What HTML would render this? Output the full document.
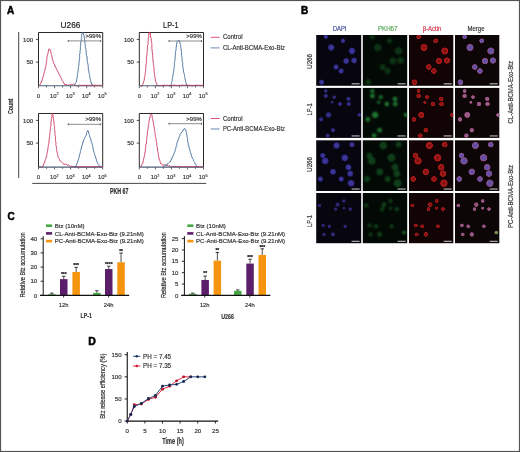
<!DOCTYPE html><html><head><meta charset="utf-8"><style>html,body{margin:0;padding:0;background:#fff;}svg{display:block;will-change:transform;}text{font-family:"Liberation Sans",sans-serif;}</style></head><body>
<svg width="520" height="452" viewBox="0 0 520 452">
<defs>
<filter id="bl" x="-50%" y="-50%" width="200%" height="200%"><feGaussianBlur stdDeviation="0.7"/></filter><filter id="bl2" x="-50%" y="-50%" width="200%" height="200%"><feGaussianBlur stdDeviation="0.85"/></filter>
<radialGradient id="gB"><stop offset="0" stop-color="#4640a6"/><stop offset="0.65" stop-color="#342e92"/><stop offset="1" stop-color="#1a1550" stop-opacity="0"/></radialGradient>
<radialGradient id="gG"><stop offset="0" stop-color="#0c2a12"/><stop offset="0.55" stop-color="#185e28"/><stop offset="0.78" stop-color="#1c7030"/><stop offset="1" stop-color="#0a2a12" stop-opacity="0"/></radialGradient>
<radialGradient id="gR"><stop offset="0" stop-color="#700e0e"/><stop offset="0.55" stop-color="#a01616"/><stop offset="0.78" stop-color="#b81c1c"/><stop offset="1" stop-color="#400606" stop-opacity="0"/></radialGradient>
<radialGradient id="gM"><stop offset="0" stop-color="#5c4aa8"/><stop offset="0.55" stop-color="#6a54a4"/><stop offset="0.8" stop-color="#8a4a80"/><stop offset="1" stop-color="#401830" stop-opacity="0"/></radialGradient>
<radialGradient id="gM2"><stop offset="0" stop-color="#8a5a90"/><stop offset="0.55" stop-color="#9a6088"/><stop offset="0.8" stop-color="#8a3a60"/><stop offset="1" stop-color="#401830" stop-opacity="0"/></radialGradient>
<radialGradient id="gY"><stop offset="0" stop-color="#8aa060"/><stop offset="0.7" stop-color="#7a9050"/><stop offset="1" stop-color="#304020" stop-opacity="0"/></radialGradient>
<radialGradient id="gG2"><stop offset="0" stop-color="#2a9a48"/><stop offset="0.7" stop-color="#228a3a"/><stop offset="1" stop-color="#0a2a12" stop-opacity="0"/></radialGradient>
<radialGradient id="gG3"><stop offset="0" stop-color="#1a6a2c"/><stop offset="0.6" stop-color="#228a3a"/><stop offset="0.8" stop-color="#1a7030"/><stop offset="1" stop-color="#0a2a12" stop-opacity="0"/></radialGradient>
</defs>
<rect x="0" y="0" width="520" height="452" fill="#fff"/>
<text x="7.0" y="14.2" font-size="10" fill="#000" stroke="#000" stroke-width="0.5" text-anchor="start" font-weight="bold" >A</text>
<text x="70.5" y="27.6" font-size="9" fill="#222" stroke="#222" stroke-width="0.18" text-anchor="middle" font-weight="normal" textLength="19.8" lengthAdjust="spacingAndGlyphs" >U266</text>
<text x="170.8" y="27.6" font-size="9" fill="#222" stroke="#222" stroke-width="0.18" text-anchor="middle" font-weight="normal" textLength="15.4" lengthAdjust="spacingAndGlyphs" >LP-1</text>
<line x1="18.7" y1="32" x2="18.7" y2="178" stroke="#333" stroke-width="0.9"/>
<text x="13.4" y="106.4" font-size="6.5" fill="#333" stroke="#333" stroke-width="0.18" text-anchor="middle" font-weight="bold" textLength="15.2" lengthAdjust="spacingAndGlyphs" transform="rotate(-90 13.4 106.4)" >Count</text>
<line x1="32.2" y1="183.4" x2="206.3" y2="183.4" stroke="#333" stroke-width="0.9"/>
<text x="110" y="193.5" font-size="8.2" fill="#2a2a2a" stroke="#2a2a2a" stroke-width="0.18" text-anchor="start" font-weight="bold" textLength="18.5" lengthAdjust="spacingAndGlyphs" >PKH 67</text>
<path d="M38.5,85.9 V32.5 H102.7 V85.9" fill="none" stroke="#111" stroke-width="0.9"/>
<line x1="35.9" y1="39.4" x2="38.5" y2="39.4" stroke="#222" stroke-width="0.8"/>
<text x="33.1" y="41.5" font-size="6" fill="#333" stroke="#333" stroke-width="0.18" text-anchor="end" font-weight="normal" >100</text>
<line x1="35.9" y1="62.1" x2="38.5" y2="62.1" stroke="#222" stroke-width="0.8"/>
<text x="33.1" y="64.2" font-size="6" fill="#333" stroke="#333" stroke-width="0.18" text-anchor="end" font-weight="normal" >50</text>
<line x1="38.50" y1="85.9" x2="38.50" y2="88.2" stroke="#222" stroke-width="0.7"/>
<line x1="46.52" y1="85.9" x2="46.52" y2="87.5" stroke="#222" stroke-width="0.7"/>
<line x1="54.55" y1="85.9" x2="54.55" y2="88.2" stroke="#222" stroke-width="0.7"/>
<line x1="62.58" y1="85.9" x2="62.58" y2="87.5" stroke="#222" stroke-width="0.7"/>
<line x1="70.60" y1="85.9" x2="70.60" y2="88.2" stroke="#222" stroke-width="0.7"/>
<line x1="78.62" y1="85.9" x2="78.62" y2="87.5" stroke="#222" stroke-width="0.7"/>
<line x1="86.65" y1="85.9" x2="86.65" y2="88.2" stroke="#222" stroke-width="0.7"/>
<line x1="94.68" y1="85.9" x2="94.68" y2="87.5" stroke="#222" stroke-width="0.7"/>
<line x1="102.70" y1="85.9" x2="102.70" y2="88.2" stroke="#222" stroke-width="0.7"/>
<text x="38.5" y="97.60000000000001" font-size="5.9" fill="#333" stroke="#333" stroke-width="0.18" text-anchor="middle" font-weight="normal" >0</text>
<text x="54.25" y="97.60000000000001" font-size="5.9" fill="#333" stroke="#333" stroke-width="0.15" text-anchor="middle">10<tspan font-size="3.8" dy="-2.4">2</tspan></text>
<text x="70.30" y="97.60000000000001" font-size="5.9" fill="#333" stroke="#333" stroke-width="0.15" text-anchor="middle">10<tspan font-size="3.8" dy="-2.4">3</tspan></text>
<text x="86.35" y="97.60000000000001" font-size="5.9" fill="#333" stroke="#333" stroke-width="0.15" text-anchor="middle">10<tspan font-size="3.8" dy="-2.4">4</tspan></text>
<text x="102.40" y="97.60000000000001" font-size="5.9" fill="#333" stroke="#333" stroke-width="0.15" text-anchor="middle">10<tspan font-size="3.8" dy="-2.4">5</tspan></text>
<path d="M38.60,85.60 L39.82,84.99 L40.18,84.53 L40.36,84.33 L40.41,83.93 L40.67,83.27 L40.96,82.31 L41.41,82.26 L41.57,80.96 L42.09,80.81 L42.35,79.48 L42.81,78.29 L42.94,77.94 L42.79,77.18 L43.05,77.16 L43.18,76.29 L43.57,75.41 L43.71,74.42 L43.68,73.83 L44.15,73.29 L44.17,72.69 L44.41,71.69 L44.74,71.31 L44.66,70.46 L44.96,70.01 L45.21,68.77 L45.47,67.93 L45.36,67.83 L45.40,66.84 L45.49,66.24 L45.96,65.39 L46.14,64.39 L46.18,63.88 L46.25,63.01 L46.48,62.70 L46.43,61.72 L46.35,61.05 L46.72,60.62 L46.90,59.32 L46.80,59.03 L46.74,58.24 L46.90,57.36 L47.02,57.02 L47.20,55.73 L47.45,55.54 L47.45,54.47 L47.78,54.22 L48.03,53.61 L47.92,52.63 L48.09,52.50 L48.58,50.94 L48.44,50.14 L48.69,49.62 L49.07,48.87 L49.03,48.73 L49.55,49.06 L50.19,49.98 L50.41,51.11 L50.66,51.13 L50.95,52.39 L51.13,53.08 L51.12,53.43 L51.19,54.40 L51.39,54.66 L51.66,55.52 L51.93,56.20 L51.96,56.99 L52.18,57.92 L52.33,59.14 L52.77,59.27 L52.79,60.23 L53.03,60.79 L53.44,62.31 L53.47,62.54 L53.51,62.84 L53.92,63.73 L54.44,64.31 L54.39,65.65 L54.94,65.51 L55.28,65.98 L55.59,67.42 L56.06,67.78 L56.11,68.12 L56.39,69.13 L56.89,69.79 L57.12,69.93 L57.65,71.25 L57.97,71.70 L58.24,72.22 L58.33,72.74 L58.71,72.96 L58.86,73.82 L59.28,74.85 L59.96,75.35 L60.24,76.42 L60.56,76.48 L60.55,77.00 L60.87,77.64 L61.40,78.92 L61.83,79.18 L62.07,80.07 L62.19,80.64 L62.94,81.46 L63.25,81.88 L63.37,82.81 L63.79,83.40 L64.41,83.51 L64.89,84.81 L65.90,84.45 L66.31,84.56 L67.46,85.21 L67.98,85.23 L69.22,85.04 L69.62,84.85 L70.22,84.20 L71.31,84.60 L71.82,84.72 L72.47,84.63 L73.46,84.20 L73.99,84.56 L74.80,85.15 L75.69,85.23 L76.07,85.75 L76.38,85.40 L76.73,85.83 L77.16,85.85 L78.22,85.52 L80.01,85.07 L80.42,85.22 L80.73,85.77 L81.36,85.48 L82.21,85.56 L82.67,85.53 L83.46,85.77 L83.98,85.57 L84.79,85.31 L85.81,85.52 L86.52,85.75 L87.50,85.46 L88.21,85.52 L89.01,85.69 L89.85,85.54 L90.73,85.91 L91.70,85.85 L92.68,85.30 L93.37,85.91 L94.35,85.18 L94.87,85.46 L95.67,85.27 L96.47,85.66 L97.57,85.86 L98.03,85.70 L98.98,85.18 L99.76,85.92 L100.10,85.91 L100.78,85.49 L101.59,85.80 L101.72,85.44 L102.32,85.36 L102.70,85.50" stroke="#cc3058" stroke-width="0.9" fill="none" stroke-linejoin="round"/>
<path d="M74.60,85.20 L74.64,84.69 L75.13,84.02 L75.34,83.91 L75.42,83.21 L76.03,82.62 L76.10,82.10 L76.73,80.92 L76.53,79.80 L76.60,79.73 L76.82,78.59 L76.99,78.70 L77.28,77.50 L77.08,77.45 L77.38,76.58 L77.27,75.31 L77.65,74.93 L77.48,74.66 L77.84,73.80 L77.70,73.08 L77.80,72.32 L78.07,71.06 L78.22,70.80 L78.20,69.28 L78.41,68.58 L78.33,67.70 L78.40,66.93 L78.59,66.38 L78.87,65.70 L78.83,64.92 L78.84,64.08 L78.87,63.37 L79.16,63.14 L78.99,62.34 L79.40,61.28 L79.42,60.83 L79.34,60.44 L79.37,59.39 L79.57,59.07 L79.49,58.17 L79.72,57.24 L79.65,56.23 L79.57,55.28 L79.64,55.09 L79.79,53.83 L79.78,53.70 L80.20,52.83 L80.01,51.73 L80.08,51.22 L80.08,50.52 L80.19,50.32 L80.59,49.14 L80.34,48.70 L80.45,47.32 L80.38,46.51 L80.67,45.79 L80.62,44.96 L80.61,43.91 L80.72,43.21 L80.77,42.06 L80.96,41.46 L81.16,40.95 L81.30,40.31 L81.36,39.78 L81.28,38.58 L81.61,37.75 L81.56,37.56 L81.31,37.13 L81.76,36.39 L81.75,36.04 L81.54,35.32 L81.95,33.92 L82.29,33.05 L82.40,32.80 L82.68,32.57 L82.77,32.11 L83.05,32.88 L83.38,34.20 L83.93,35.41 L84.05,35.95 L84.08,35.91 L84.32,37.21 L84.28,37.71 L84.45,38.02 L84.58,38.95 L84.38,39.75 L84.78,40.50 L84.88,42.00 L84.86,42.26 L84.95,43.32 L85.17,44.01 L85.20,44.24 L85.06,45.07 L85.41,45.72 L85.45,46.35 L85.32,47.34 L85.68,48.40 L85.77,48.67 L85.78,49.45 L85.84,49.78 L86.13,50.57 L86.28,52.04 L85.98,52.56 L86.42,53.58 L86.34,53.55 L86.32,54.77 L86.41,55.09 L86.47,55.70 L86.93,56.03 L86.97,57.07 L87.10,57.96 L86.91,58.86 L87.13,58.81 L87.02,59.98 L87.33,60.56 L87.30,61.35 L87.49,62.56 L87.46,63.23 L87.94,63.41 L88.09,64.69 L88.18,64.99 L88.04,65.78 L88.42,66.67 L88.24,67.26 L88.30,67.66 L88.33,69.13 L88.52,69.98 L88.61,70.13 L88.83,70.82 L88.88,72.27 L89.22,72.88 L89.21,73.70 L89.46,74.09 L89.46,74.34 L89.58,75.37 L89.69,76.19 L89.59,76.27 L89.99,76.92 L89.89,77.66 L90.04,79.07 L90.58,79.61 L90.67,80.52 L90.86,81.41 L90.92,81.91 L91.17,83.23 L91.51,83.19 L91.90,84.40 L91.88,84.08 L92.44,84.94 L93.00,85.40" stroke="#3a6494" stroke-width="0.9" fill="none" stroke-linejoin="round"/>
<line x1="38.5" y1="85.80000000000001" x2="102.7" y2="85.80000000000001" stroke="#4e5f78" stroke-width="1.1"/>
<line x1="80" y1="85.30000000000001" x2="102.7" y2="85.30000000000001" stroke="#c83a62" stroke-width="0.7" opacity="0.8"/>
<line x1="68.2" y1="40.9" x2="100.7" y2="40.9" stroke="#808080" stroke-width="0.9"/>
<line x1="68.2" y1="39.9" x2="68.2" y2="41.9" stroke="#444" stroke-width="0.8"/>
<line x1="100.7" y1="39.9" x2="100.7" y2="41.9" stroke="#444" stroke-width="0.8"/>
<text x="101.0" y="38.2" font-size="4.8" fill="#444" stroke="#444" stroke-width="0.18" text-anchor="end" font-weight="normal" textLength="15.5" lengthAdjust="spacingAndGlyphs" >&gt;99%</text>
<path d="M139.3,85.9 V32.5 H203.5 V85.9" fill="none" stroke="#111" stroke-width="0.9"/>
<line x1="136.70000000000002" y1="39.4" x2="139.3" y2="39.4" stroke="#222" stroke-width="0.8"/>
<text x="133.9" y="41.5" font-size="6" fill="#333" stroke="#333" stroke-width="0.18" text-anchor="end" font-weight="normal" >100</text>
<line x1="136.70000000000002" y1="62.1" x2="139.3" y2="62.1" stroke="#222" stroke-width="0.8"/>
<text x="133.9" y="64.2" font-size="6" fill="#333" stroke="#333" stroke-width="0.18" text-anchor="end" font-weight="normal" >50</text>
<line x1="139.30" y1="85.9" x2="139.30" y2="88.2" stroke="#222" stroke-width="0.7"/>
<line x1="147.33" y1="85.9" x2="147.33" y2="87.5" stroke="#222" stroke-width="0.7"/>
<line x1="155.35" y1="85.9" x2="155.35" y2="88.2" stroke="#222" stroke-width="0.7"/>
<line x1="163.38" y1="85.9" x2="163.38" y2="87.5" stroke="#222" stroke-width="0.7"/>
<line x1="171.40" y1="85.9" x2="171.40" y2="88.2" stroke="#222" stroke-width="0.7"/>
<line x1="179.43" y1="85.9" x2="179.43" y2="87.5" stroke="#222" stroke-width="0.7"/>
<line x1="187.45" y1="85.9" x2="187.45" y2="88.2" stroke="#222" stroke-width="0.7"/>
<line x1="195.48" y1="85.9" x2="195.48" y2="87.5" stroke="#222" stroke-width="0.7"/>
<line x1="203.50" y1="85.9" x2="203.50" y2="88.2" stroke="#222" stroke-width="0.7"/>
<text x="139.3" y="97.60000000000001" font-size="5.9" fill="#333" stroke="#333" stroke-width="0.18" text-anchor="middle" font-weight="normal" >0</text>
<text x="155.05" y="97.60000000000001" font-size="5.9" fill="#333" stroke="#333" stroke-width="0.15" text-anchor="middle">10<tspan font-size="3.8" dy="-2.4">2</tspan></text>
<text x="171.10" y="97.60000000000001" font-size="5.9" fill="#333" stroke="#333" stroke-width="0.15" text-anchor="middle">10<tspan font-size="3.8" dy="-2.4">3</tspan></text>
<text x="187.15" y="97.60000000000001" font-size="5.9" fill="#333" stroke="#333" stroke-width="0.15" text-anchor="middle">10<tspan font-size="3.8" dy="-2.4">4</tspan></text>
<text x="203.20" y="97.60000000000001" font-size="5.9" fill="#333" stroke="#333" stroke-width="0.15" text-anchor="middle">10<tspan font-size="3.8" dy="-2.4">5</tspan></text>
<path d="M139.60,85.60 L140.07,85.43 L140.81,85.92 L141.83,86.44 L142.71,85.02 L142.72,84.74 L142.86,84.14 L142.88,83.62 L143.44,82.97 L143.39,82.87 L143.71,81.91 L143.60,81.31 L143.81,80.83 L144.22,80.50 L144.33,79.02 L144.10,78.87 L144.64,77.86 L144.65,76.61 L144.70,76.59 L145.04,75.64 L145.24,74.18 L144.99,73.15 L145.31,72.66 L145.57,72.14 L145.51,71.59 L145.50,70.79 L145.38,70.37 L145.53,69.85 L145.78,68.62 L145.62,67.90 L145.91,67.60 L145.74,66.32 L145.99,66.06 L145.99,65.01 L146.15,64.07 L146.07,63.73 L146.43,63.13 L146.46,62.22 L146.22,61.25 L146.61,60.89 L146.38,59.51 L146.52,59.33 L146.54,58.19 L146.71,58.02 L146.58,56.47 L146.68,56.06 L146.90,55.12 L147.01,54.87 L146.94,53.67 L147.21,53.05 L147.20,52.28 L146.99,52.08 L147.08,51.58 L147.24,50.25 L147.18,49.83 L147.46,49.47 L147.31,48.11 L147.42,47.76 L147.47,46.05 L147.52,45.47 L147.98,45.02 L147.99,44.24 L148.16,42.75 L147.91,42.42 L148.24,40.75 L148.29,40.22 L148.24,39.35 L148.23,38.26 L148.37,37.82 L148.75,36.88 L148.84,36.27 L148.65,36.17 L148.94,35.22 L148.68,34.71 L148.91,34.62 L148.91,33.68 L149.31,33.01 L149.18,33.41 L149.42,32.49 L149.27,32.22 L149.85,32.38 L149.96,33.17 L149.95,33.05 L150.42,34.00 L150.28,34.90 L150.49,35.46 L150.53,36.99 L151.12,38.08 L151.32,38.82 L151.18,40.58 L151.57,41.50 L151.37,41.39 L151.46,42.17 L151.74,42.47 L151.75,43.59 L151.82,44.26 L151.79,44.52 L151.72,45.24 L151.99,45.69 L151.79,47.01 L151.87,47.13 L151.84,48.33 L152.03,49.47 L152.35,50.26 L152.13,50.22 L152.12,51.39 L152.46,52.13 L152.31,52.90 L152.54,53.93 L152.66,54.87 L152.69,55.01 L152.83,55.95 L152.77,56.79 L152.91,57.40 L152.75,58.20 L152.77,59.51 L153.02,59.73 L153.00,61.04 L153.12,61.04 L153.31,62.08 L153.46,62.23 L153.29,63.49 L153.54,64.44 L153.27,64.75 L153.40,65.51 L153.88,66.71 L153.95,67.36 L154.01,68.25 L153.83,69.36 L154.23,69.55 L154.16,70.80 L154.08,71.34 L154.14,71.95 L154.28,73.04 L154.55,73.40 L154.35,74.20 L154.74,74.75 L154.67,75.42 L154.98,76.36 L154.74,76.57 L154.98,77.55 L155.18,77.70 L155.06,78.77 L155.26,78.90 L155.46,80.73 L155.70,81.40 L155.95,82.09 L156.42,83.29 L156.44,83.13 L156.85,83.61 L156.79,84.66 L157.27,84.99 L156.94,85.60 L156.07,85.15 L156.26,85.52 L160.06,85.87 L160.21,85.62 L160.76,85.52 L161.11,85.32 L161.76,85.91 L162.09,85.52 L162.94,85.95 L163.24,85.20 L164.17,85.97 L164.58,85.14 L165.42,85.44 L166.07,85.66 L166.72,85.25 L167.40,85.30 L167.95,85.87 L168.88,85.27 L169.37,85.47 L170.27,85.45 L170.88,85.33 L171.96,85.92 L172.46,85.62 L173.61,85.14 L174.48,85.21 L175.21,85.60 L176.08,85.38 L176.84,85.63 L177.71,85.70 L178.59,85.50 L179.27,85.66 L180.35,85.31 L181.35,85.80 L182.09,85.26 L182.97,85.19 L183.69,85.48 L184.54,85.49 L185.59,85.13 L186.51,85.16 L187.41,85.79 L188.15,85.13 L188.99,85.42 L190.02,85.20 L190.79,85.98 L191.54,85.81 L192.09,85.96 L193.00,85.93 L193.95,85.22 L194.64,85.91 L195.05,85.38 L196.07,85.21 L196.82,85.31 L197.46,85.19 L197.96,85.89 L198.46,85.29 L199.19,85.34 L199.56,85.22 L200.16,85.90 L200.92,85.86 L201.18,85.76 L201.62,85.53 L202.29,85.37 L202.80,85.55 L203.00,85.50" stroke="#cc3058" stroke-width="0.9" fill="none" stroke-linejoin="round"/>
<path d="M169.00,85.50 L169.59,86.06 L170.17,86.25 L171.26,84.30 L171.45,83.80 L171.66,83.65 L171.50,83.35 L171.66,82.33 L171.92,81.68 L172.08,81.30 L172.13,81.36 L172.24,80.45 L172.24,79.20 L172.25,78.64 L172.64,78.19 L172.73,77.86 L172.69,76.50 L173.06,75.52 L172.90,75.01 L173.08,74.17 L173.26,73.52 L173.56,72.29 L173.70,71.64 L173.61,71.13 L173.78,69.48 L173.79,69.36 L174.21,68.89 L174.08,67.79 L173.98,67.48 L174.30,66.54 L174.41,65.92 L174.62,65.46 L174.38,64.87 L174.37,63.78 L174.60,62.75 L174.52,62.45 L174.58,61.45 L175.07,60.28 L174.81,59.90 L175.02,59.12 L175.24,57.88 L175.08,57.18 L175.04,56.90 L175.44,55.94 L175.17,55.25 L175.57,54.12 L175.65,53.32 L175.49,52.24 L175.56,51.42 L175.68,51.32 L175.91,50.68 L175.99,49.46 L175.99,48.93 L176.16,48.36 L176.00,47.84 L176.38,46.85 L176.41,46.10 L176.20,45.76 L176.48,45.90 L176.55,44.87 L176.67,44.45 L176.75,42.95 L177.27,41.51 L177.61,41.09 L177.84,40.71 L178.26,40.69 L178.47,40.60 L178.86,40.21 L179.01,40.56 L179.27,41.11 L179.62,41.00 L179.95,43.05 L180.43,44.28 L180.36,44.62 L180.73,45.63 L180.80,46.23 L180.59,46.64 L180.79,47.42 L181.07,48.09 L180.81,48.71 L181.26,49.44 L180.97,49.46 L181.05,50.01 L181.46,51.44 L181.44,52.19 L181.51,52.47 L181.35,53.07 L181.73,53.96 L181.61,54.95 L181.55,55.60 L181.75,56.82 L181.87,57.27 L182.22,58.25 L182.25,59.16 L181.96,59.78 L182.23,60.91 L182.27,61.64 L182.44,61.98 L182.67,62.64 L182.74,63.47 L182.45,64.24 L182.88,65.66 L182.63,65.93 L182.93,66.88 L182.88,67.27 L183.04,68.20 L183.09,68.90 L183.24,69.11 L183.56,70.22 L183.43,71.20 L183.57,72.18 L183.99,73.02 L184.11,73.46 L184.16,74.31 L184.53,74.83 L184.68,75.56 L184.53,76.55 L185.00,77.51 L184.92,78.58 L185.00,78.91 L185.29,79.85 L185.54,80.41 L185.50,80.75 L185.56,81.82 L185.93,82.29 L185.85,82.56 L186.25,83.19 L186.09,83.55 L186.56,83.77 L186.36,84.22 L187.43,86.21 L187.87,85.45 L188.50,85.50" stroke="#3a6494" stroke-width="0.9" fill="none" stroke-linejoin="round"/>
<line x1="139.3" y1="85.80000000000001" x2="203.5" y2="85.80000000000001" stroke="#4e5f78" stroke-width="1.1"/>
<line x1="160" y1="85.30000000000001" x2="203.5" y2="85.30000000000001" stroke="#c83a62" stroke-width="0.7" opacity="0.8"/>
<line x1="169.0" y1="41.0" x2="201.5" y2="41.0" stroke="#808080" stroke-width="0.9"/>
<line x1="169.0" y1="40.0" x2="169.0" y2="42.0" stroke="#444" stroke-width="0.8"/>
<line x1="201.5" y1="40.0" x2="201.5" y2="42.0" stroke="#444" stroke-width="0.8"/>
<text x="201.8" y="38.2" font-size="4.8" fill="#444" stroke="#444" stroke-width="0.18" text-anchor="end" font-weight="normal" textLength="15.5" lengthAdjust="spacingAndGlyphs" >&gt;99%</text>
<path d="M38.5,167.2 V113.5 H102.7 V167.2" fill="none" stroke="#111" stroke-width="0.9"/>
<line x1="35.9" y1="120.4" x2="38.5" y2="120.4" stroke="#222" stroke-width="0.8"/>
<text x="33.1" y="122.5" font-size="6" fill="#333" stroke="#333" stroke-width="0.18" text-anchor="end" font-weight="normal" >100</text>
<line x1="35.9" y1="143.1" x2="38.5" y2="143.1" stroke="#222" stroke-width="0.8"/>
<text x="33.1" y="145.2" font-size="6" fill="#333" stroke="#333" stroke-width="0.18" text-anchor="end" font-weight="normal" >50</text>
<line x1="38.50" y1="167.2" x2="38.50" y2="169.5" stroke="#222" stroke-width="0.7"/>
<line x1="46.52" y1="167.2" x2="46.52" y2="168.79999999999998" stroke="#222" stroke-width="0.7"/>
<line x1="54.55" y1="167.2" x2="54.55" y2="169.5" stroke="#222" stroke-width="0.7"/>
<line x1="62.58" y1="167.2" x2="62.58" y2="168.79999999999998" stroke="#222" stroke-width="0.7"/>
<line x1="70.60" y1="167.2" x2="70.60" y2="169.5" stroke="#222" stroke-width="0.7"/>
<line x1="78.62" y1="167.2" x2="78.62" y2="168.79999999999998" stroke="#222" stroke-width="0.7"/>
<line x1="86.65" y1="167.2" x2="86.65" y2="169.5" stroke="#222" stroke-width="0.7"/>
<line x1="94.68" y1="167.2" x2="94.68" y2="168.79999999999998" stroke="#222" stroke-width="0.7"/>
<line x1="102.70" y1="167.2" x2="102.70" y2="169.5" stroke="#222" stroke-width="0.7"/>
<text x="38.5" y="178.89999999999998" font-size="5.9" fill="#333" stroke="#333" stroke-width="0.18" text-anchor="middle" font-weight="normal" >0</text>
<text x="54.25" y="178.89999999999998" font-size="5.9" fill="#333" stroke="#333" stroke-width="0.15" text-anchor="middle">10<tspan font-size="3.8" dy="-2.4">2</tspan></text>
<text x="70.30" y="178.89999999999998" font-size="5.9" fill="#333" stroke="#333" stroke-width="0.15" text-anchor="middle">10<tspan font-size="3.8" dy="-2.4">3</tspan></text>
<text x="86.35" y="178.89999999999998" font-size="5.9" fill="#333" stroke="#333" stroke-width="0.15" text-anchor="middle">10<tspan font-size="3.8" dy="-2.4">4</tspan></text>
<text x="102.40" y="178.89999999999998" font-size="5.9" fill="#333" stroke="#333" stroke-width="0.15" text-anchor="middle">10<tspan font-size="3.8" dy="-2.4">5</tspan></text>
<path d="M38.60,167.00 L39.04,166.89 L39.95,166.88 L40.77,166.97 L41.99,167.25 L42.42,166.82 L42.70,165.91 L43.38,165.83 L43.55,165.00 L43.58,164.62 L43.81,163.62 L44.21,162.82 L44.47,162.80 L44.86,161.81 L45.09,161.02 L45.12,160.36 L45.48,159.68 L45.95,158.57 L46.03,158.02 L46.12,156.97 L46.41,156.95 L46.59,156.16 L46.77,155.49 L46.83,154.63 L46.83,154.11 L46.87,153.23 L47.32,152.79 L47.40,151.66 L47.44,151.12 L47.66,150.35 L47.82,150.08 L47.73,149.10 L48.13,148.11 L48.12,147.89 L48.04,146.76 L48.22,146.23 L48.68,145.25 L48.42,144.57 L48.72,143.99 L48.81,143.21 L49.05,142.37 L48.96,142.02 L48.96,141.04 L49.14,140.37 L49.10,139.81 L49.29,138.22 L49.34,137.78 L49.31,137.04 L49.57,136.54 L49.62,135.40 L49.64,135.08 L50.04,134.15 L49.79,133.66 L49.94,132.41 L49.90,132.21 L50.29,131.38 L50.21,130.63 L50.18,130.32 L50.32,129.24 L50.62,128.62 L50.56,127.36 L50.68,126.42 L50.90,125.84 L50.99,124.99 L50.87,124.21 L50.97,123.40 L50.87,123.15 L51.08,122.00 L51.17,121.52 L51.30,120.99 L51.48,120.10 L51.68,119.94 L51.36,119.34 L51.81,118.76 L51.54,118.30 L51.93,116.25 L51.80,115.91 L52.23,114.31 L52.11,113.52 L52.31,113.75 L52.53,113.29 L52.88,114.09 L52.64,114.54 L52.94,114.91 L53.08,115.58 L53.24,116.18 L53.08,116.79 L53.34,117.63 L53.42,118.61 L53.58,118.95 L53.55,119.77 L53.78,120.64 L53.89,121.68 L53.96,122.59 L54.05,123.54 L53.88,124.17 L54.16,124.60 L54.32,125.55 L54.26,125.90 L54.59,126.33 L54.52,127.58 L54.32,128.32 L54.68,129.39 L54.59,130.21 L54.75,130.55 L54.99,130.93 L54.98,132.24 L54.88,133.23 L54.96,133.65 L55.11,134.67 L55.03,135.11 L55.20,135.94 L55.45,136.41 L55.52,137.29 L55.45,137.95 L55.52,139.37 L55.65,139.99 L55.57,140.35 L55.62,141.37 L55.84,142.33 L55.64,143.05 L56.09,143.65 L55.78,144.19 L55.83,144.83 L56.31,145.93 L56.26,146.81 L56.45,147.34 L56.40,148.03 L56.51,148.66 L56.59,148.94 L56.68,149.76 L56.87,150.38 L56.77,151.21 L57.20,152.84 L57.32,153.14 L57.57,154.27 L57.64,154.51 L57.71,155.33 L57.91,155.98 L58.25,157.05 L58.19,157.30 L58.39,157.46 L59.14,158.79 L59.61,159.46 L59.64,160.07 L60.35,161.16 L60.97,161.27 L61.16,161.44 L61.90,162.20 L62.31,162.53 L62.91,163.56 L63.73,164.22 L64.31,164.39 L64.97,163.84 L65.92,164.25 L66.62,164.40 L67.02,165.13 L68.00,165.42 L68.67,164.98 L69.29,165.82 L69.88,166.30 L70.45,166.60 L71.33,165.98 L71.68,166.74 L72.49,166.36 L72.36,167.03 L72.58,167.18 L73.73,166.48 L75.94,166.97 L76.40,167.06 L76.75,167.17 L77.37,167.04 L78.05,166.84 L78.54,167.17 L79.43,167.17 L79.93,166.73 L80.41,167.35 L81.43,167.22 L82.02,167.02 L83.09,167.22 L83.72,166.75 L84.46,167.27 L85.27,167.09 L86.21,167.28 L87.16,166.73 L87.65,166.71 L88.71,167.00 L89.75,167.27 L90.26,167.22 L91.47,167.25 L92.21,166.71 L93.18,167.19 L93.94,167.29 L94.60,166.54 L95.50,167.18 L96.11,167.13 L97.20,166.67 L97.78,167.07 L98.42,166.64 L99.00,167.13 L99.87,166.87 L100.16,167.18 L101.02,166.66 L101.46,167.26 L102.07,166.92 L102.31,166.98 L102.70,166.90" stroke="#cc3058" stroke-width="0.9" fill="none" stroke-linejoin="round"/>
<path d="M74.00,166.90 L74.59,166.83 L75.66,166.58 L75.95,166.06 L76.19,165.55 L76.31,164.58 L76.94,164.27 L76.79,163.85 L77.35,162.72 L77.52,162.14 L77.75,161.08 L77.79,161.16 L78.42,159.90 L78.53,158.89 L78.81,158.41 L79.07,158.06 L79.20,157.54 L79.13,155.99 L79.30,155.38 L79.43,154.50 L79.83,154.47 L79.97,153.78 L80.36,152.22 L80.40,151.77 L80.37,151.54 L80.60,150.47 L80.94,150.15 L81.12,149.00 L81.18,148.19 L81.65,148.03 L81.54,146.34 L81.75,145.85 L82.24,145.62 L82.40,144.17 L82.57,144.10 L82.71,143.69 L82.66,142.27 L83.21,142.30 L83.45,141.02 L83.71,140.75 L83.80,139.67 L84.19,138.82 L84.62,138.19 L84.83,137.50 L85.33,136.74 L85.64,136.26 L85.59,136.28 L85.97,135.42 L86.53,134.43 L86.44,133.08 L86.65,132.62 L87.20,131.58 L87.25,130.76 L87.65,130.58 L87.87,130.29 L87.97,130.61 L88.48,131.78 L88.55,133.05 L88.99,133.82 L89.12,134.21 L89.61,134.84 L89.50,135.60 L89.77,136.64 L89.89,137.41 L90.08,138.07 L90.57,138.22 L90.71,139.06 L90.83,139.78 L91.10,141.28 L91.60,142.02 L91.41,142.24 L91.98,142.80 L92.08,143.69 L92.37,144.13 L92.46,145.14 L92.34,145.55 L92.82,146.76 L92.70,147.41 L93.20,147.96 L93.22,148.62 L93.21,149.93 L93.62,150.14 L93.51,150.75 L93.92,151.82 L93.95,152.24 L94.27,153.35 L94.54,153.87 L94.49,154.18 L94.95,155.25 L95.17,155.68 L95.44,156.66 L95.68,157.85 L95.75,157.78 L96.16,158.86 L96.37,159.32 L96.29,160.44 L96.59,160.43 L96.82,161.37 L96.88,161.82 L97.52,162.75 L97.83,163.73 L98.60,164.56 L98.82,165.02 L99.26,165.57 L99.50,166.14 L100.63,166.42 L101.07,166.75 L101.50,166.90" stroke="#3a6494" stroke-width="0.9" fill="none" stroke-linejoin="round"/>
<line x1="38.5" y1="167.1" x2="102.7" y2="167.1" stroke="#4e5f78" stroke-width="1.1"/>
<line x1="76" y1="166.6" x2="102.7" y2="166.6" stroke="#c83a62" stroke-width="0.7" opacity="0.8"/>
<line x1="68.2" y1="124.3" x2="100.7" y2="124.3" stroke="#808080" stroke-width="0.9"/>
<line x1="68.2" y1="123.3" x2="68.2" y2="125.3" stroke="#444" stroke-width="0.8"/>
<line x1="100.7" y1="123.3" x2="100.7" y2="125.3" stroke="#444" stroke-width="0.8"/>
<text x="101.0" y="121.3" font-size="4.8" fill="#444" stroke="#444" stroke-width="0.18" text-anchor="end" font-weight="normal" textLength="15.5" lengthAdjust="spacingAndGlyphs" >&gt;99%</text>
<path d="M139.3,167.2 V113.5 H203.5 V167.2" fill="none" stroke="#111" stroke-width="0.9"/>
<line x1="136.70000000000002" y1="120.4" x2="139.3" y2="120.4" stroke="#222" stroke-width="0.8"/>
<text x="133.9" y="122.5" font-size="6" fill="#333" stroke="#333" stroke-width="0.18" text-anchor="end" font-weight="normal" >100</text>
<line x1="136.70000000000002" y1="143.1" x2="139.3" y2="143.1" stroke="#222" stroke-width="0.8"/>
<text x="133.9" y="145.2" font-size="6" fill="#333" stroke="#333" stroke-width="0.18" text-anchor="end" font-weight="normal" >50</text>
<line x1="139.30" y1="167.2" x2="139.30" y2="169.5" stroke="#222" stroke-width="0.7"/>
<line x1="147.33" y1="167.2" x2="147.33" y2="168.79999999999998" stroke="#222" stroke-width="0.7"/>
<line x1="155.35" y1="167.2" x2="155.35" y2="169.5" stroke="#222" stroke-width="0.7"/>
<line x1="163.38" y1="167.2" x2="163.38" y2="168.79999999999998" stroke="#222" stroke-width="0.7"/>
<line x1="171.40" y1="167.2" x2="171.40" y2="169.5" stroke="#222" stroke-width="0.7"/>
<line x1="179.43" y1="167.2" x2="179.43" y2="168.79999999999998" stroke="#222" stroke-width="0.7"/>
<line x1="187.45" y1="167.2" x2="187.45" y2="169.5" stroke="#222" stroke-width="0.7"/>
<line x1="195.48" y1="167.2" x2="195.48" y2="168.79999999999998" stroke="#222" stroke-width="0.7"/>
<line x1="203.50" y1="167.2" x2="203.50" y2="169.5" stroke="#222" stroke-width="0.7"/>
<text x="139.3" y="178.89999999999998" font-size="5.9" fill="#333" stroke="#333" stroke-width="0.18" text-anchor="middle" font-weight="normal" >0</text>
<text x="155.05" y="178.89999999999998" font-size="5.9" fill="#333" stroke="#333" stroke-width="0.15" text-anchor="middle">10<tspan font-size="3.8" dy="-2.4">2</tspan></text>
<text x="171.10" y="178.89999999999998" font-size="5.9" fill="#333" stroke="#333" stroke-width="0.15" text-anchor="middle">10<tspan font-size="3.8" dy="-2.4">3</tspan></text>
<text x="187.15" y="178.89999999999998" font-size="5.9" fill="#333" stroke="#333" stroke-width="0.15" text-anchor="middle">10<tspan font-size="3.8" dy="-2.4">4</tspan></text>
<text x="203.20" y="178.89999999999998" font-size="5.9" fill="#333" stroke="#333" stroke-width="0.15" text-anchor="middle">10<tspan font-size="3.8" dy="-2.4">5</tspan></text>
<path d="M139.60,167.00 L140.11,166.56 L141.02,166.60 L141.46,165.44 L141.67,165.66 L141.77,164.56 L142.26,164.15 L142.16,163.97 L142.62,163.32 L142.89,162.30 L143.18,162.16 L143.03,160.88 L143.44,160.41 L143.56,159.20 L143.84,158.27 L144.13,157.91 L144.14,156.57 L144.51,155.66 L144.64,155.79 L144.54,154.72 L144.84,154.19 L144.74,153.91 L145.02,152.70 L144.87,152.00 L145.06,151.87 L145.33,151.07 L145.43,150.27 L145.19,149.22 L145.70,148.83 L145.48,147.59 L145.75,146.76 L145.81,145.71 L145.86,145.32 L145.77,144.21 L146.30,144.00 L146.38,143.10 L146.42,142.55 L146.55,141.03 L146.53,140.49 L146.64,139.77 L146.67,139.64 L146.80,138.34 L146.84,137.82 L147.12,137.04 L146.91,136.73 L146.94,135.87 L147.42,134.99 L147.22,134.15 L147.44,133.07 L147.36,132.28 L147.53,131.77 L147.62,130.87 L147.63,130.40 L148.06,129.72 L148.03,129.04 L147.95,128.40 L148.16,127.56 L148.32,126.81 L148.27,125.95 L148.32,125.55 L148.49,124.98 L148.41,124.16 L148.88,123.46 L148.84,123.10 L148.81,122.99 L148.91,122.24 L149.03,120.59 L149.54,119.93 L149.37,118.92 L149.73,118.31 L149.77,116.99 L150.34,116.67 L150.17,115.60 L150.44,115.30 L150.73,114.95 L150.99,114.27 L151.11,114.22 L151.37,113.92 L151.61,114.54 L151.88,114.75 L152.06,115.58 L152.21,117.12 L152.30,118.42 L152.47,118.52 L152.70,119.52 L152.76,119.70 L152.82,120.42 L153.07,120.97 L153.07,121.95 L153.21,122.56 L153.55,123.93 L153.60,124.55 L153.56,124.99 L153.64,125.83 L153.95,126.01 L154.21,126.87 L154.29,128.00 L154.46,128.12 L154.34,129.47 L154.27,129.41 L154.65,130.55 L154.93,131.55 L154.88,132.51 L155.00,132.83 L155.20,133.48 L155.17,134.43 L155.29,135.50 L155.56,135.88 L155.42,136.49 L155.66,137.32 L155.84,138.29 L156.12,138.63 L155.99,139.46 L156.35,139.91 L156.25,141.05 L156.19,141.32 L156.66,142.49 L156.55,142.57 L156.83,143.81 L156.90,144.80 L157.04,145.00 L156.81,145.59 L157.08,146.48 L157.04,146.88 L157.34,147.94 L157.32,148.95 L157.56,148.75 L157.56,150.06 L157.65,150.77 L157.64,151.23 L158.14,152.29 L158.19,152.74 L158.24,153.85 L158.27,154.72 L158.51,155.80 L158.66,156.02 L158.59,156.52 L159.01,157.18 L158.84,157.90 L159.17,159.13 L159.35,159.71 L159.25,159.55 L159.72,160.34 L160.08,161.45 L160.22,162.21 L160.59,163.44 L161.24,163.45 L161.66,163.91 L162.00,164.75 L162.93,165.15 L163.61,164.99 L164.33,164.52 L165.49,165.29 L166.12,165.46 L167.05,165.08 L167.72,165.87 L168.47,166.06 L169.17,165.77 L170.18,165.82 L170.74,166.59 L171.49,166.66 L171.81,166.27 L171.79,166.40 L172.13,166.59 L172.79,166.50 L175.02,166.80 L175.37,166.51 L175.71,167.20 L176.32,166.69 L176.79,166.73 L177.40,166.51 L178.21,166.78 L178.64,167.12 L179.30,166.72 L180.34,166.60 L180.91,167.24 L181.83,166.63 L182.42,167.14 L183.23,167.35 L183.97,167.34 L184.94,166.69 L185.76,166.60 L186.73,166.72 L187.67,167.01 L188.30,166.70 L189.27,166.67 L190.25,166.59 L190.95,166.97 L191.69,167.17 L192.59,167.07 L193.50,166.75 L194.25,166.55 L194.95,167.23 L195.81,167.06 L196.48,166.97 L197.33,166.91 L198.02,166.52 L198.72,166.66 L199.29,167.10 L199.99,166.82 L200.86,167.15 L201.40,167.23 L201.57,166.70 L201.99,167.06 L202.70,166.77 L203.00,166.90" stroke="#cc3058" stroke-width="0.9" fill="none" stroke-linejoin="round"/>
<path d="M163.00,166.90 L163.40,166.83 L164.15,166.16 L164.95,165.86 L165.66,165.21 L165.93,165.54 L166.76,165.00 L167.04,164.00 L167.69,163.72 L168.35,163.42 L168.79,162.86 L169.56,162.21 L170.10,162.00 L170.46,161.12 L170.72,160.87 L171.04,159.59 L171.62,159.58 L171.73,158.17 L172.36,157.90 L172.26,157.00 L172.55,156.91 L172.85,156.42 L173.35,155.05 L173.59,154.69 L173.87,154.42 L173.92,153.07 L174.48,152.65 L174.73,152.15 L174.91,151.50 L175.06,150.53 L175.01,150.08 L175.38,149.21 L175.82,148.14 L175.95,147.32 L176.13,147.25 L176.14,146.26 L176.67,145.58 L176.69,144.48 L176.68,143.84 L177.04,142.98 L177.21,142.23 L177.59,142.05 L177.63,140.91 L178.00,140.35 L178.44,139.53 L178.40,139.28 L178.57,138.28 L178.90,137.83 L179.25,137.12 L179.32,136.41 L179.76,135.63 L180.08,135.41 L180.03,134.41 L180.59,133.53 L180.91,132.95 L181.43,132.79 L181.98,131.78 L182.34,131.65 L182.74,130.90 L183.09,129.90 L183.92,129.66 L183.89,128.96 L184.72,128.66 L184.63,128.80 L185.10,128.92 L185.47,129.33 L185.96,130.66 L186.15,131.87 L186.47,132.38 L186.40,132.80 L186.42,133.95 L186.90,134.16 L186.72,135.15 L187.13,136.12 L186.93,136.75 L187.34,137.48 L187.22,137.76 L187.55,138.67 L187.46,139.66 L187.57,140.69 L187.63,140.73 L187.89,141.98 L188.12,142.74 L188.28,143.60 L188.27,144.02 L188.28,144.63 L188.64,145.19 L188.86,146.00 L188.92,147.44 L188.94,147.30 L189.28,148.13 L189.60,148.65 L189.84,150.11 L190.02,150.42 L190.00,151.35 L190.32,151.86 L190.47,152.61 L190.84,153.71 L191.19,153.86 L191.15,154.85 L191.52,155.51 L191.61,156.00 L191.92,157.05 L192.48,158.15 L192.69,158.88 L193.01,159.21 L193.29,159.48 L193.60,160.74 L193.82,161.46 L194.51,162.11 L194.76,162.65 L195.01,163.83 L195.24,163.81 L195.87,164.58 L195.91,165.24 L196.85,166.15 L197.52,166.62 L198.00,166.90" stroke="#3a6494" stroke-width="0.9" fill="none" stroke-linejoin="round"/>
<line x1="139.3" y1="167.1" x2="203.5" y2="167.1" stroke="#4e5f78" stroke-width="1.1"/>
<line x1="175" y1="166.6" x2="203.5" y2="166.6" stroke="#c83a62" stroke-width="0.7" opacity="0.8"/>
<line x1="169.0" y1="123.7" x2="201.5" y2="123.7" stroke="#808080" stroke-width="0.9"/>
<line x1="169.0" y1="122.7" x2="169.0" y2="124.7" stroke="#444" stroke-width="0.8"/>
<line x1="201.5" y1="122.7" x2="201.5" y2="124.7" stroke="#444" stroke-width="0.8"/>
<text x="201.8" y="121.3" font-size="4.8" fill="#444" stroke="#444" stroke-width="0.18" text-anchor="end" font-weight="normal" textLength="15.5" lengthAdjust="spacingAndGlyphs" >&gt;99%</text>
<line x1="210.6" y1="37.3" x2="219.6" y2="37.3" stroke="#d9456e" stroke-width="0.9"/>
<line x1="210.6" y1="47.9" x2="219.6" y2="47.9" stroke="#5a7fae" stroke-width="0.9"/>
<text x="222.9" y="39.4" font-size="6.6" fill="#333" stroke="#333" stroke-width="0.18" text-anchor="start" font-weight="normal" textLength="19.6" lengthAdjust="spacingAndGlyphs" >Control</text>
<text x="222.9" y="50.0" font-size="6.6" fill="#333" stroke="#333" stroke-width="0.18" text-anchor="start" font-weight="normal" textLength="62.2" lengthAdjust="spacingAndGlyphs" >CL-Anti-BCMA-Exo-Btz</text>
<line x1="210.6" y1="118.5" x2="219.6" y2="118.5" stroke="#d9456e" stroke-width="0.9"/>
<line x1="210.6" y1="129.0" x2="219.6" y2="129.0" stroke="#5a7fae" stroke-width="0.9"/>
<text x="222.9" y="120.6" font-size="6.6" fill="#333" stroke="#333" stroke-width="0.18" text-anchor="start" font-weight="normal" textLength="19.6" lengthAdjust="spacingAndGlyphs" >Control</text>
<text x="222.9" y="131.1" font-size="6.6" fill="#333" stroke="#333" stroke-width="0.18" text-anchor="start" font-weight="normal" textLength="62.2" lengthAdjust="spacingAndGlyphs" >PC-Anti-BCMA-Exo-Btz</text>
<text x="301.0" y="14.4" font-size="10" fill="#000" stroke="#000" stroke-width="0.5" text-anchor="start" font-weight="bold" >B</text>
<text x="339.6" y="30.6" font-size="6.6" fill="#3e4c98" stroke="#3e4c98" stroke-width="0.18" text-anchor="middle" font-weight="normal" textLength="13.7" lengthAdjust="spacingAndGlyphs" >DAPI</text>
<text x="387.7" y="30.8" font-size="6.6" fill="#58a85c" stroke="#58a85c" stroke-width="0.18" text-anchor="middle" font-weight="normal" textLength="19.6" lengthAdjust="spacingAndGlyphs" >PKH67</text>
<text x="432" y="30.8" font-size="6.6" fill="#d8304a" stroke="#d8304a" stroke-width="0.18" text-anchor="middle" font-weight="normal" textLength="18.5" lengthAdjust="spacingAndGlyphs" >β-Actin</text>
<text x="476" y="30.6" font-size="6.6" fill="#333" stroke="#333" stroke-width="0.18" text-anchor="middle" font-weight="normal" textLength="17" lengthAdjust="spacingAndGlyphs" >Merge</text>
<rect x="316.2" y="35" width="45" height="50.8" fill="#07060f"/>
<g clip-path="url(#c00)" filter="url(#bl)" opacity="0.95">
<circle cx="325.8" cy="36.8" r="2.6" fill="url(#gB)"/>
<circle cx="342.9" cy="40.8" r="2.7" fill="url(#gB)"/>
<circle cx="331.2" cy="47.5" r="4.0" fill="url(#gB)"/>
<circle cx="352.0" cy="51.0" r="4.0" fill="url(#gB)"/>
<circle cx="346.2" cy="61.0" r="3.6" fill="url(#gB)"/>
<circle cx="354.1" cy="60.5" r="3.6" fill="url(#gB)"/>
<circle cx="336.0" cy="67.0" r="3.2" fill="url(#gB)"/>
<circle cx="341.1" cy="71.0" r="3.2" fill="url(#gB)"/>
<circle cx="321.6" cy="82.2" r="3.2" fill="url(#gB)"/>
</g>
<clipPath id="c00"><rect x="316.2" y="35" width="45" height="50.8"/></clipPath>
<rect x="351.6" y="83.4" width="8" height="0.9" fill="#e6e6e6"/>
<rect x="362.8" y="35" width="44.4" height="50.8" fill="#030904"/>
<g clip-path="url(#c01)" filter="url(#bl2)" opacity="0.6">
<circle cx="372.4" cy="36.8" r="2.6" fill="url(#gG)"/>
<circle cx="389.5" cy="40.8" r="2.7" fill="url(#gG)"/>
<circle cx="377.8" cy="47.5" r="4.0" fill="url(#gG)"/>
<circle cx="398.6" cy="51.0" r="4.0" fill="url(#gG)"/>
<circle cx="392.8" cy="61.0" r="3.6" fill="url(#gG)"/>
<circle cx="400.7" cy="60.5" r="3.6" fill="url(#gG)"/>
<circle cx="382.6" cy="67.0" r="3.2" fill="url(#gG)"/>
<circle cx="387.7" cy="71.0" r="3.2" fill="url(#gG)"/>
<circle cx="368.2" cy="82.2" r="3.2" fill="url(#gG)"/>
</g>
<clipPath id="c01"><rect x="362.8" y="35" width="44.4" height="50.8"/></clipPath>
<rect x="397.6" y="83.4" width="8" height="0.9" fill="#e6e6e6"/>
<rect x="409" y="35" width="44.3" height="50.8" fill="#120404"/>
<g clip-path="url(#c02)" filter="url(#bl)" opacity="1.0">
<circle cx="418.6" cy="36.8" r="2.6" fill="url(#gR)"/>
<circle cx="435.7" cy="40.8" r="2.7" fill="url(#gR)"/>
<circle cx="424.0" cy="47.5" r="4.0" fill="url(#gR)"/>
<circle cx="444.8" cy="51.0" r="4.0" fill="url(#gR)"/>
<circle cx="439.0" cy="61.0" r="3.6" fill="url(#gR)"/>
<circle cx="446.9" cy="60.5" r="3.6" fill="url(#gR)"/>
<circle cx="428.8" cy="67.0" r="3.2" fill="url(#gR)"/>
<circle cx="433.9" cy="71.0" r="3.2" fill="url(#gR)"/>
<circle cx="414.4" cy="82.2" r="3.2" fill="url(#gR)"/>
</g>
<clipPath id="c02"><rect x="409" y="35" width="44.3" height="50.8"/></clipPath>
<rect x="443.7" y="83.4" width="8" height="0.9" fill="#e6e6e6"/>
<rect x="455" y="35" width="44.3" height="50.8" fill="#0d0607"/>
<g clip-path="url(#c03)" filter="url(#bl)" opacity="1.0">
<circle cx="464.6" cy="36.8" r="2.6" fill="url(#gM)"/>
<circle cx="481.7" cy="40.8" r="2.7" fill="url(#gM)"/>
<circle cx="470.0" cy="47.5" r="4.0" fill="url(#gM)"/>
<circle cx="490.8" cy="51.0" r="4.0" fill="url(#gM)"/>
<circle cx="485.0" cy="61.0" r="3.6" fill="url(#gM)"/>
<circle cx="492.9" cy="60.5" r="3.6" fill="url(#gM)"/>
<circle cx="474.8" cy="67.0" r="3.2" fill="url(#gM)"/>
<circle cx="479.9" cy="71.0" r="3.2" fill="url(#gM)"/>
<circle cx="460.4" cy="82.2" r="3.2" fill="url(#gM)"/>
</g>
<clipPath id="c03"><rect x="455" y="35" width="44.3" height="50.8"/></clipPath>
<rect x="489.7" y="83.4" width="8" height="0.9" fill="#e6e6e6"/>
<rect x="316.2" y="87.9" width="45" height="50" fill="#07060f"/>
<g clip-path="url(#c10)" filter="url(#bl)" opacity="0.8">
<circle cx="325.8" cy="91.0" r="2.2" fill="url(#gB)"/>
<circle cx="325.8" cy="95.9" r="2.6" fill="url(#gB)"/>
<circle cx="334.2" cy="97.1" r="2.2" fill="url(#gB)"/>
<circle cx="332.1" cy="102.2" r="1.8" fill="url(#gB)"/>
<circle cx="340.2" cy="104.0" r="2.6" fill="url(#gB)"/>
<circle cx="348.4" cy="98.9" r="2.6" fill="url(#gB)"/>
<circle cx="348.7" cy="104.0" r="2.6" fill="url(#gB)"/>
<circle cx="328.5" cy="114.9" r="3.5" fill="url(#gB)"/>
<circle cx="321.2" cy="119.4" r="2.6" fill="url(#gB)"/>
<circle cx="359.2" cy="114.9" r="2.2" fill="url(#gB)"/>
<circle cx="333.0" cy="130.2" r="2.6" fill="url(#gB)"/>
<circle cx="327.6" cy="135.6" r="2.6" fill="url(#gB)"/>
</g>
<clipPath id="c10"><rect x="316.2" y="87.9" width="45" height="50"/></clipPath>
<rect x="351.6" y="135.5" width="8" height="0.9" fill="#e6e6e6"/>
<rect x="362.8" y="87.9" width="44.4" height="50" fill="#030904"/>
<g clip-path="url(#c11)" filter="url(#bl2)" opacity="1.0">
<circle cx="372.4" cy="91.0" r="2.2" fill="url(#gG3)"/>
<circle cx="372.4" cy="95.9" r="2.6" fill="url(#gG3)"/>
<circle cx="380.8" cy="97.1" r="2.2" fill="url(#gG3)"/>
<circle cx="378.7" cy="102.2" r="1.8" fill="url(#gG3)"/>
<circle cx="386.8" cy="104.0" r="2.6" fill="url(#gG3)"/>
<circle cx="395.0" cy="98.9" r="2.6" fill="url(#gG3)"/>
<circle cx="395.3" cy="104.0" r="2.6" fill="url(#gG3)"/>
<circle cx="375.1" cy="114.9" r="3.5" fill="url(#gG3)"/>
<circle cx="367.8" cy="119.4" r="2.6" fill="url(#gG3)"/>
<circle cx="405.8" cy="114.9" r="2.2" fill="url(#gG3)"/>
<circle cx="379.6" cy="130.2" r="2.6" fill="url(#gG3)"/>
<circle cx="374.2" cy="135.6" r="2.6" fill="url(#gG3)"/>
</g>
<clipPath id="c11"><rect x="362.8" y="87.9" width="44.4" height="50"/></clipPath>
<rect x="397.6" y="135.5" width="8" height="0.9" fill="#e6e6e6"/>
<rect x="409" y="87.9" width="44.3" height="50" fill="#120404"/>
<g clip-path="url(#c12)" filter="url(#bl)" opacity="1.0">
<circle cx="418.6" cy="91.0" r="2.2" fill="url(#gR)"/>
<circle cx="418.6" cy="95.9" r="2.6" fill="url(#gR)"/>
<circle cx="427.0" cy="97.1" r="2.2" fill="url(#gR)"/>
<circle cx="424.9" cy="102.2" r="1.8" fill="url(#gR)"/>
<circle cx="433.0" cy="104.0" r="2.6" fill="url(#gR)"/>
<circle cx="441.2" cy="98.9" r="2.6" fill="url(#gR)"/>
<circle cx="441.5" cy="104.0" r="2.6" fill="url(#gR)"/>
<circle cx="421.3" cy="114.9" r="3.5" fill="url(#gR)"/>
<circle cx="414.0" cy="119.4" r="2.6" fill="url(#gR)"/>
<circle cx="452.0" cy="114.9" r="2.2" fill="url(#gR)"/>
<circle cx="425.8" cy="130.2" r="2.6" fill="url(#gR)"/>
<circle cx="420.4" cy="135.6" r="2.6" fill="url(#gR)"/>
</g>
<clipPath id="c12"><rect x="409" y="87.9" width="44.3" height="50"/></clipPath>
<rect x="443.7" y="135.5" width="8" height="0.9" fill="#e6e6e6"/>
<rect x="455" y="87.9" width="44.3" height="50" fill="#0d0607"/>
<g clip-path="url(#c13)" filter="url(#bl)" opacity="1.0">
<circle cx="464.6" cy="91.0" r="2.2" fill="url(#gM2)"/>
<circle cx="464.6" cy="95.9" r="2.6" fill="url(#gM2)"/>
<circle cx="473.0" cy="97.1" r="2.2" fill="url(#gM2)"/>
<circle cx="470.9" cy="102.2" r="1.8" fill="url(#gM2)"/>
<circle cx="479.0" cy="104.0" r="2.6" fill="url(#gM2)"/>
<circle cx="487.2" cy="98.9" r="2.6" fill="url(#gM2)"/>
<circle cx="487.5" cy="104.0" r="2.6" fill="url(#gM2)"/>
<circle cx="467.3" cy="114.9" r="3.5" fill="url(#gM2)"/>
<circle cx="460.0" cy="119.4" r="2.6" fill="url(#gM2)"/>
<circle cx="498.0" cy="114.9" r="2.2" fill="url(#gM2)"/>
<circle cx="471.8" cy="130.2" r="2.6" fill="url(#gM2)"/>
<circle cx="466.4" cy="135.6" r="2.6" fill="url(#gM2)"/>
</g>
<clipPath id="c13"><rect x="455" y="87.9" width="44.3" height="50"/></clipPath>
<rect x="489.7" y="135.5" width="8" height="0.9" fill="#e6e6e6"/>
<rect x="316.2" y="140.3" width="45" height="50.7" fill="#07060f"/>
<g clip-path="url(#c20)" filter="url(#bl)" opacity="0.95">
<circle cx="336.6" cy="145.5" r="4.0" fill="url(#gB)"/>
<circle cx="352.0" cy="144.6" r="3.2" fill="url(#gB)"/>
<circle cx="322.7" cy="155.5" r="3.2" fill="url(#gB)"/>
<circle cx="325.2" cy="160.9" r="4.2" fill="url(#gB)"/>
<circle cx="344.8" cy="157.8" r="4.2" fill="url(#gB)"/>
<circle cx="348.4" cy="167.3" r="3.7" fill="url(#gB)"/>
<circle cx="350.2" cy="173.6" r="3.7" fill="url(#gB)"/>
<circle cx="333.0" cy="171.8" r="3.7" fill="url(#gB)"/>
<circle cx="320.4" cy="179.0" r="3.2" fill="url(#gB)"/>
<circle cx="341.2" cy="179.0" r="3.2" fill="url(#gB)"/>
<circle cx="351.1" cy="183.2" r="4.2" fill="url(#gB)"/>
</g>
<clipPath id="c20"><rect x="316.2" y="140.3" width="45" height="50.7"/></clipPath>
<rect x="351.6" y="188.6" width="8" height="0.9" fill="#e6e6e6"/>
<rect x="362.8" y="140.3" width="44.4" height="50.7" fill="#030904"/>
<g clip-path="url(#c21)" filter="url(#bl2)" opacity="0.75">
<circle cx="383.2" cy="145.5" r="4.0" fill="url(#gG)"/>
<circle cx="398.6" cy="144.6" r="3.2" fill="url(#gG)"/>
<circle cx="369.3" cy="155.5" r="3.2" fill="url(#gG)"/>
<circle cx="371.8" cy="160.9" r="4.2" fill="url(#gG)"/>
<circle cx="391.4" cy="157.8" r="4.2" fill="url(#gG)"/>
<circle cx="395.0" cy="167.3" r="3.7" fill="url(#gG)"/>
<circle cx="396.8" cy="173.6" r="3.7" fill="url(#gG)"/>
<circle cx="379.6" cy="171.8" r="3.7" fill="url(#gG)"/>
<circle cx="367.0" cy="179.0" r="3.2" fill="url(#gG)"/>
<circle cx="387.8" cy="179.0" r="3.2" fill="url(#gG)"/>
<circle cx="397.7" cy="183.2" r="4.2" fill="url(#gG)"/>
</g>
<clipPath id="c21"><rect x="362.8" y="140.3" width="44.4" height="50.7"/></clipPath>
<rect x="397.6" y="188.6" width="8" height="0.9" fill="#e6e6e6"/>
<rect x="409" y="140.3" width="44.3" height="50.7" fill="#120404"/>
<g clip-path="url(#c22)" filter="url(#bl)" opacity="1.0">
<circle cx="429.4" cy="145.5" r="4.0" fill="url(#gR)"/>
<circle cx="444.8" cy="144.6" r="3.2" fill="url(#gR)"/>
<circle cx="415.5" cy="155.5" r="3.2" fill="url(#gR)"/>
<circle cx="418.0" cy="160.9" r="4.2" fill="url(#gR)"/>
<circle cx="437.6" cy="157.8" r="4.2" fill="url(#gR)"/>
<circle cx="441.2" cy="167.3" r="3.7" fill="url(#gR)"/>
<circle cx="443.0" cy="173.6" r="3.7" fill="url(#gR)"/>
<circle cx="425.8" cy="171.8" r="3.7" fill="url(#gR)"/>
<circle cx="413.2" cy="179.0" r="3.2" fill="url(#gR)"/>
<circle cx="434.0" cy="179.0" r="3.2" fill="url(#gR)"/>
<circle cx="443.9" cy="183.2" r="4.2" fill="url(#gR)"/>
</g>
<clipPath id="c22"><rect x="409" y="140.3" width="44.3" height="50.7"/></clipPath>
<rect x="443.7" y="188.6" width="8" height="0.9" fill="#e6e6e6"/>
<rect x="455" y="140.3" width="44.3" height="50.7" fill="#0d0607"/>
<g clip-path="url(#c23)" filter="url(#bl)" opacity="1.0">
<circle cx="475.4" cy="145.5" r="4.0" fill="url(#gM)"/>
<circle cx="490.8" cy="144.6" r="3.2" fill="url(#gM)"/>
<circle cx="461.5" cy="155.5" r="3.2" fill="url(#gM)"/>
<circle cx="464.0" cy="160.9" r="4.2" fill="url(#gM)"/>
<circle cx="483.6" cy="157.8" r="4.2" fill="url(#gM)"/>
<circle cx="487.2" cy="167.3" r="3.7" fill="url(#gM)"/>
<circle cx="489.0" cy="173.6" r="3.7" fill="url(#gM)"/>
<circle cx="471.8" cy="171.8" r="3.7" fill="url(#gM)"/>
<circle cx="459.2" cy="179.0" r="3.2" fill="url(#gM)"/>
<circle cx="480.0" cy="179.0" r="3.2" fill="url(#gM)"/>
<circle cx="489.9" cy="183.2" r="4.2" fill="url(#gM)"/>
</g>
<clipPath id="c23"><rect x="455" y="140.3" width="44.3" height="50.7"/></clipPath>
<rect x="489.7" y="188.6" width="8" height="0.9" fill="#e6e6e6"/>
<rect x="316.2" y="193" width="45" height="50.2" fill="#07060f"/>
<g clip-path="url(#c30)" filter="url(#bl)" opacity="0.7124999999999999">
<circle cx="319.5" cy="205.5" r="2.2" fill="url(#gB)"/>
<circle cx="337.5" cy="204.6" r="2.6" fill="url(#gB)"/>
<circle cx="343.9" cy="201.0" r="2.2" fill="url(#gB)"/>
<circle cx="335.7" cy="209.1" r="2.2" fill="url(#gB)"/>
<circle cx="343.9" cy="208.2" r="1.8" fill="url(#gB)"/>
<circle cx="350.2" cy="209.1" r="2.2" fill="url(#gB)"/>
<circle cx="323.1" cy="225.4" r="2.2" fill="url(#gB)"/>
<circle cx="329.4" cy="226.3" r="2.2" fill="url(#gB)"/>
<circle cx="345.1" cy="226.3" r="2.2" fill="url(#gB)"/>
<circle cx="324.0" cy="234.4" r="2.2" fill="url(#gB)"/>
<circle cx="333.0" cy="234.4" r="2.6" fill="url(#gB)"/>
</g>
<clipPath id="c30"><rect x="316.2" y="193" width="45" height="50.2"/></clipPath>
<rect x="351.6" y="240.8" width="8" height="0.9" fill="#e6e6e6"/>
<rect x="362.8" y="193" width="44.4" height="50.2" fill="#030904"/>
<g clip-path="url(#c31)" filter="url(#bl2)" opacity="0.8075">
<circle cx="366.1" cy="205.5" r="2.2" fill="url(#gG)"/>
<circle cx="384.1" cy="204.6" r="2.6" fill="url(#gG)"/>
<circle cx="390.5" cy="201.0" r="2.2" fill="url(#gG)"/>
<circle cx="382.3" cy="209.1" r="2.2" fill="url(#gG)"/>
<circle cx="390.5" cy="208.2" r="1.8" fill="url(#gG)"/>
<circle cx="396.8" cy="209.1" r="2.2" fill="url(#gG)"/>
<circle cx="369.7" cy="225.4" r="2.2" fill="url(#gG)"/>
<circle cx="376.0" cy="226.3" r="2.2" fill="url(#gG)"/>
<circle cx="391.7" cy="226.3" r="2.2" fill="url(#gG)"/>
<circle cx="370.6" cy="234.4" r="2.2" fill="url(#gG)"/>
<circle cx="379.6" cy="234.4" r="2.6" fill="url(#gG)"/>
<circle cx="404.0" cy="232.6" r="2.2" fill="url(#gG2)"/>
</g>
<clipPath id="c31"><rect x="362.8" y="193" width="44.4" height="50.2"/></clipPath>
<rect x="397.6" y="240.8" width="8" height="0.9" fill="#e6e6e6"/>
<rect x="409" y="193" width="44.3" height="50.2" fill="#120404"/>
<g clip-path="url(#c32)" filter="url(#bl)" opacity="0.95">
<circle cx="412.3" cy="205.5" r="2.2" fill="url(#gR)"/>
<circle cx="430.3" cy="204.6" r="2.6" fill="url(#gR)"/>
<circle cx="436.7" cy="201.0" r="2.2" fill="url(#gR)"/>
<circle cx="428.5" cy="209.1" r="2.2" fill="url(#gR)"/>
<circle cx="436.7" cy="208.2" r="1.8" fill="url(#gR)"/>
<circle cx="443.0" cy="209.1" r="2.2" fill="url(#gR)"/>
<circle cx="415.9" cy="225.4" r="2.2" fill="url(#gR)"/>
<circle cx="422.2" cy="226.3" r="2.2" fill="url(#gR)"/>
<circle cx="437.9" cy="226.3" r="2.2" fill="url(#gR)"/>
<circle cx="416.8" cy="234.4" r="2.2" fill="url(#gR)"/>
<circle cx="425.8" cy="234.4" r="2.6" fill="url(#gR)"/>
</g>
<clipPath id="c32"><rect x="409" y="193" width="44.3" height="50.2"/></clipPath>
<rect x="443.7" y="240.8" width="8" height="0.9" fill="#e6e6e6"/>
<rect x="455" y="193" width="44.3" height="50.2" fill="#0d0607"/>
<g clip-path="url(#c33)" filter="url(#bl)" opacity="0.95">
<circle cx="458.3" cy="205.5" r="2.2" fill="url(#gM2)"/>
<circle cx="476.3" cy="204.6" r="2.6" fill="url(#gM2)"/>
<circle cx="482.7" cy="201.0" r="2.2" fill="url(#gM2)"/>
<circle cx="474.5" cy="209.1" r="2.2" fill="url(#gM2)"/>
<circle cx="482.7" cy="208.2" r="1.8" fill="url(#gM2)"/>
<circle cx="489.0" cy="209.1" r="2.2" fill="url(#gM2)"/>
<circle cx="461.9" cy="225.4" r="2.2" fill="url(#gM2)"/>
<circle cx="468.2" cy="226.3" r="2.2" fill="url(#gM2)"/>
<circle cx="483.9" cy="226.3" r="2.2" fill="url(#gM2)"/>
<circle cx="462.8" cy="234.4" r="2.2" fill="url(#gM2)"/>
<circle cx="471.8" cy="234.4" r="2.6" fill="url(#gM2)"/>
<circle cx="496.2" cy="232.6" r="2.2" fill="url(#gY)"/>
</g>
<clipPath id="c33"><rect x="455" y="193" width="44.3" height="50.2"/></clipPath>
<rect x="489.7" y="240.8" width="8" height="0.9" fill="#e6e6e6"/>
<text x="311.8" y="61.4" font-size="6.6" fill="#333" stroke="#333" stroke-width="0.18" text-anchor="middle" font-weight="normal" textLength="15" lengthAdjust="spacingAndGlyphs" transform="rotate(-90 311.8 61.4)" >U266</text>
<text x="311.8" y="109.4" font-size="6.6" fill="#333" stroke="#333" stroke-width="0.18" text-anchor="middle" font-weight="normal" textLength="12" lengthAdjust="spacingAndGlyphs" transform="rotate(-90 311.8 109.4)" >LP-1</text>
<text x="311.8" y="164.4" font-size="6.6" fill="#333" stroke="#333" stroke-width="0.18" text-anchor="middle" font-weight="normal" textLength="15" lengthAdjust="spacingAndGlyphs" transform="rotate(-90 311.8 164.4)" >U266</text>
<text x="311.8" y="221.0" font-size="6.6" fill="#333" stroke="#333" stroke-width="0.18" text-anchor="middle" font-weight="normal" textLength="12" lengthAdjust="spacingAndGlyphs" transform="rotate(-90 311.8 221.0)" >LP-1</text>
<text x="513.3" y="92.3" font-size="6.6" fill="#333" stroke="#333" stroke-width="0.18" text-anchor="middle" font-weight="normal" textLength="62.5" lengthAdjust="spacingAndGlyphs" transform="rotate(-90 513.3 92.3)" >CL-Anti-BCMA-Exo-Btz</text>
<text x="513.3" y="196.6" font-size="6.6" fill="#333" stroke="#333" stroke-width="0.18" text-anchor="middle" font-weight="normal" textLength="63" lengthAdjust="spacingAndGlyphs" transform="rotate(-90 513.3 196.6)" >PC-Anti-BCMA-Exo-Btz</text>
<text x="7.6" y="220" font-size="10" fill="#000" stroke="#000" stroke-width="0.5" text-anchor="start" font-weight="bold" >C</text>
<rect x="46" y="224.4" width="6.1" height="2.6" fill="#45a845"/>
<text x="54.8" y="227.89999999999998" font-size="6.2" fill="#333" stroke="#333" stroke-width="0.18" text-anchor="start" font-weight="normal" textLength="29.8" lengthAdjust="spacingAndGlyphs" >Btz (10nM)</text>
<rect x="46" y="232.1" width="6.1" height="2.6" fill="#5b1e6a"/>
<text x="54.8" y="235.59999999999997" font-size="6.2" fill="#333" stroke="#333" stroke-width="0.18" text-anchor="start" font-weight="normal" textLength="89" lengthAdjust="spacingAndGlyphs" >CL-Anti-BCMA-Exo-Btz (9.21nM)</text>
<rect x="46" y="239.8" width="6.1" height="2.6" fill="#f5940e"/>
<text x="54.8" y="243.29999999999998" font-size="6.2" fill="#333" stroke="#333" stroke-width="0.18" text-anchor="start" font-weight="normal" textLength="89" lengthAdjust="spacingAndGlyphs" >PC-Anti-BCMA-Exo-Btz (9.21nM)</text>
<line x1="43.2" y1="236.2" x2="43.2" y2="295.9" stroke="#111" stroke-width="1"/>
<line x1="40.6" y1="295.40" x2="43.2" y2="295.40" stroke="#111" stroke-width="0.9"/>
<text x="37.2" y="297.5" font-size="6" fill="#333" stroke="#333" stroke-width="0.18" text-anchor="end" font-weight="normal" >0</text>
<line x1="40.6" y1="281.24" x2="43.2" y2="281.24" stroke="#111" stroke-width="0.9"/>
<text x="37.2" y="283.3375" font-size="6" fill="#333" stroke="#333" stroke-width="0.18" text-anchor="end" font-weight="normal" >10</text>
<line x1="40.6" y1="267.07" x2="43.2" y2="267.07" stroke="#111" stroke-width="0.9"/>
<text x="37.2" y="269.175" font-size="6" fill="#333" stroke="#333" stroke-width="0.18" text-anchor="end" font-weight="normal" >20</text>
<line x1="40.6" y1="252.91" x2="43.2" y2="252.91" stroke="#111" stroke-width="0.9"/>
<text x="37.2" y="255.0125" font-size="6" fill="#333" stroke="#333" stroke-width="0.18" text-anchor="end" font-weight="normal" >30</text>
<line x1="40.6" y1="238.75" x2="43.2" y2="238.75" stroke="#111" stroke-width="0.9"/>
<text x="37.2" y="240.85" font-size="6" fill="#333" stroke="#333" stroke-width="0.18" text-anchor="end" font-weight="normal" >40</text>
<line x1="51.85" y1="294.267" x2="51.85" y2="293.13" stroke="#222" stroke-width="0.8"/>
<line x1="50.15" y1="293.13" x2="53.550000000000004" y2="293.13" stroke="#222" stroke-width="0.9"/>
<rect x="48.1" y="294.27" width="7.5" height="1.13" fill="#45a845"/>
<line x1="63.75" y1="279.11312499999997" x2="63.75" y2="276.28" stroke="#222" stroke-width="0.8"/>
<line x1="62.05" y1="276.28" x2="65.45" y2="276.28" stroke="#222" stroke-width="0.9"/>
<rect x="60.0" y="279.11" width="7.5" height="16.29" fill="#5b1e6a"/>
<text x="63.75" y="275.6" font-size="5.2" fill="#111" stroke="#111" stroke-width="0.18" text-anchor="middle" font-weight="bold" textLength="5.699999999999999" lengthAdjust="spacingAndGlyphs" >***</text>
<line x1="76.15" y1="272.031875" x2="76.15" y2="267.36" stroke="#222" stroke-width="0.8"/>
<line x1="74.45" y1="267.36" x2="77.85000000000001" y2="267.36" stroke="#222" stroke-width="0.9"/>
<rect x="72.4" y="272.03" width="7.5" height="23.37" fill="#f5940e"/>
<text x="76.15" y="266.6" font-size="5.2" fill="#111" stroke="#111" stroke-width="0.18" text-anchor="middle" font-weight="bold" textLength="5.699999999999999" lengthAdjust="spacingAndGlyphs" >***</text>
<line x1="96.85" y1="292.85075" x2="96.85" y2="290.73" stroke="#222" stroke-width="0.8"/>
<line x1="95.14999999999999" y1="290.73" x2="98.55" y2="290.73" stroke="#222" stroke-width="0.9"/>
<rect x="93.1" y="292.85" width="7.5" height="2.55" fill="#45a845"/>
<line x1="108.75" y1="269.05775" x2="108.75" y2="266.23" stroke="#222" stroke-width="0.8"/>
<line x1="107.05" y1="266.23" x2="110.45" y2="266.23" stroke="#222" stroke-width="0.9"/>
<rect x="105.0" y="269.06" width="7.5" height="26.34" fill="#5b1e6a"/>
<text x="108.75" y="265.6" font-size="5.2" fill="#111" stroke="#111" stroke-width="0.18" text-anchor="middle" font-weight="bold" textLength="7.6" lengthAdjust="spacingAndGlyphs" >****</text>
<line x1="121.05" y1="262.25975" x2="121.05" y2="253.05" stroke="#222" stroke-width="0.8"/>
<line x1="119.35" y1="253.05" x2="122.75" y2="253.05" stroke="#222" stroke-width="0.9"/>
<rect x="117.3" y="262.26" width="7.5" height="33.14" fill="#f5940e"/>
<text x="121.05" y="252.5" font-size="5.2" fill="#111" stroke="#111" stroke-width="0.18" text-anchor="middle" font-weight="bold" textLength="3.8" lengthAdjust="spacingAndGlyphs" >**</text>
<line x1="40.0" y1="295.4" x2="129.2" y2="295.4" stroke="#111" stroke-width="1.2"/>
<rect x="187.3" y="224.4" width="6.1" height="2.6" fill="#45a845"/>
<text x="196.10000000000002" y="227.89999999999998" font-size="6.2" fill="#333" stroke="#333" stroke-width="0.18" text-anchor="start" font-weight="normal" textLength="29.8" lengthAdjust="spacingAndGlyphs" >Btz (10nM)</text>
<rect x="187.3" y="232.1" width="6.1" height="2.6" fill="#5b1e6a"/>
<text x="196.10000000000002" y="235.59999999999997" font-size="6.2" fill="#333" stroke="#333" stroke-width="0.18" text-anchor="start" font-weight="normal" textLength="89" lengthAdjust="spacingAndGlyphs" >CL-Anti-BCMA-Exo-Btz (9.21nM)</text>
<rect x="187.3" y="239.8" width="6.1" height="2.6" fill="#f5940e"/>
<text x="196.10000000000002" y="243.29999999999998" font-size="6.2" fill="#333" stroke="#333" stroke-width="0.18" text-anchor="start" font-weight="normal" textLength="89" lengthAdjust="spacingAndGlyphs" >PC-Anti-BCMA-Exo-Btz (9.21nM)</text>
<line x1="184.4" y1="236.2" x2="184.4" y2="295.9" stroke="#111" stroke-width="1"/>
<line x1="181.8" y1="295.40" x2="184.4" y2="295.40" stroke="#111" stroke-width="0.9"/>
<text x="178.4" y="297.5" font-size="6" fill="#333" stroke="#333" stroke-width="0.18" text-anchor="end" font-weight="normal" >0</text>
<line x1="181.8" y1="284.04" x2="184.4" y2="284.04" stroke="#111" stroke-width="0.9"/>
<text x="178.4" y="286.14" font-size="6" fill="#333" stroke="#333" stroke-width="0.18" text-anchor="end" font-weight="normal" >5</text>
<line x1="181.8" y1="272.68" x2="184.4" y2="272.68" stroke="#111" stroke-width="0.9"/>
<text x="178.4" y="274.78000000000003" font-size="6" fill="#333" stroke="#333" stroke-width="0.18" text-anchor="end" font-weight="normal" >10</text>
<line x1="181.8" y1="261.32" x2="184.4" y2="261.32" stroke="#111" stroke-width="0.9"/>
<text x="178.4" y="263.42" font-size="6" fill="#333" stroke="#333" stroke-width="0.18" text-anchor="end" font-weight="normal" >15</text>
<line x1="181.8" y1="249.96" x2="184.4" y2="249.96" stroke="#111" stroke-width="0.9"/>
<text x="178.4" y="252.05999999999997" font-size="6" fill="#333" stroke="#333" stroke-width="0.18" text-anchor="end" font-weight="normal" >20</text>
<line x1="181.8" y1="238.60" x2="184.4" y2="238.60" stroke="#111" stroke-width="0.9"/>
<text x="178.4" y="240.7" font-size="6" fill="#333" stroke="#333" stroke-width="0.18" text-anchor="end" font-weight="normal" >25</text>
<line x1="192.75" y1="293.8096" x2="192.75" y2="293.13" stroke="#222" stroke-width="0.8"/>
<line x1="191.05" y1="293.13" x2="194.45" y2="293.13" stroke="#222" stroke-width="0.9"/>
<rect x="189.0" y="293.81" width="7.5" height="1.59" fill="#45a845"/>
<line x1="205.15" y1="279.9504" x2="205.15" y2="276.09" stroke="#222" stroke-width="0.8"/>
<line x1="203.45000000000002" y1="276.09" x2="206.85" y2="276.09" stroke="#222" stroke-width="0.9"/>
<rect x="201.4" y="279.95" width="7.5" height="15.45" fill="#5b1e6a"/>
<text x="205.15" y="275.40000000000003" font-size="5.2" fill="#111" stroke="#111" stroke-width="0.18" text-anchor="middle" font-weight="bold" textLength="3.8" lengthAdjust="spacingAndGlyphs" >**</text>
<line x1="217.35" y1="260.6384" x2="217.35" y2="252.46" stroke="#222" stroke-width="0.8"/>
<line x1="215.65" y1="252.46" x2="219.04999999999998" y2="252.46" stroke="#222" stroke-width="0.9"/>
<rect x="213.6" y="260.64" width="7.5" height="34.76" fill="#f5940e"/>
<text x="217.35" y="252.1" font-size="5.2" fill="#111" stroke="#111" stroke-width="0.18" text-anchor="middle" font-weight="bold" textLength="3.8" lengthAdjust="spacingAndGlyphs" >**</text>
<line x1="237.75" y1="290.856" x2="237.75" y2="289.95" stroke="#222" stroke-width="0.8"/>
<line x1="236.05" y1="289.95" x2="239.45" y2="289.95" stroke="#222" stroke-width="0.9"/>
<rect x="234.0" y="290.86" width="7.5" height="4.54" fill="#45a845"/>
<line x1="250.05" y1="263.592" x2="250.05" y2="259.28" stroke="#222" stroke-width="0.8"/>
<line x1="248.35000000000002" y1="259.28" x2="251.75" y2="259.28" stroke="#222" stroke-width="0.9"/>
<rect x="246.3" y="263.59" width="7.5" height="31.81" fill="#5b1e6a"/>
<text x="250.05" y="258.7" font-size="5.2" fill="#111" stroke="#111" stroke-width="0.18" text-anchor="middle" font-weight="bold" textLength="5.699999999999999" lengthAdjust="spacingAndGlyphs" >***</text>
<line x1="262.25" y1="254.95839999999998" x2="262.25" y2="248.82" stroke="#222" stroke-width="0.8"/>
<line x1="260.55" y1="248.82" x2="263.95" y2="248.82" stroke="#222" stroke-width="0.9"/>
<rect x="258.5" y="254.96" width="7.5" height="40.44" fill="#f5940e"/>
<text x="262.25" y="248.7" font-size="5.2" fill="#111" stroke="#111" stroke-width="0.18" text-anchor="middle" font-weight="bold" textLength="5.699999999999999" lengthAdjust="spacingAndGlyphs" >***</text>
<line x1="181.20000000000002" y1="295.4" x2="270.4" y2="295.4" stroke="#111" stroke-width="1.2"/>
<line x1="63.6" y1="295.4" x2="63.6" y2="297.6" stroke="#111" stroke-width="0.8"/>
<text x="63.6" y="306.7" font-size="6.2" fill="#333" stroke="#333" stroke-width="0.18" text-anchor="middle" font-weight="normal" textLength="9.6" lengthAdjust="spacingAndGlyphs" >12h</text>
<line x1="108.6" y1="295.4" x2="108.6" y2="297.6" stroke="#111" stroke-width="0.8"/>
<text x="108.6" y="306.7" font-size="6.2" fill="#333" stroke="#333" stroke-width="0.18" text-anchor="middle" font-weight="normal" textLength="9.6" lengthAdjust="spacingAndGlyphs" >24h</text>
<line x1="204.7" y1="295.4" x2="204.7" y2="297.6" stroke="#111" stroke-width="0.8"/>
<text x="204.7" y="306.7" font-size="6.2" fill="#333" stroke="#333" stroke-width="0.18" text-anchor="middle" font-weight="normal" textLength="9.6" lengthAdjust="spacingAndGlyphs" >12h</text>
<line x1="249.8" y1="295.4" x2="249.8" y2="297.6" stroke="#111" stroke-width="0.8"/>
<text x="249.8" y="306.7" font-size="6.2" fill="#333" stroke="#333" stroke-width="0.18" text-anchor="middle" font-weight="normal" textLength="9.6" lengthAdjust="spacingAndGlyphs" >24h</text>
<text x="86.2" y="318.4" font-size="7.8" fill="#333" stroke="#333" stroke-width="0.18" text-anchor="middle" font-weight="bold" textLength="11.3" lengthAdjust="spacingAndGlyphs" >LP-1</text>
<text x="227.6" y="318.6" font-size="7.8" fill="#333" stroke="#333" stroke-width="0.18" text-anchor="middle" font-weight="bold" textLength="12.7" lengthAdjust="spacingAndGlyphs" >U266</text>
<text x="24.7" y="265" font-size="7.0" fill="#2a2a2a" stroke="#2a2a2a" stroke-width="0.18" text-anchor="middle" font-weight="normal" textLength="65.2" lengthAdjust="spacingAndGlyphs" transform="rotate(-90 24.7 265)" >Relative Btz accumulation</text>
<text x="166.4" y="265.2" font-size="7.0" fill="#2a2a2a" stroke="#2a2a2a" stroke-width="0.18" text-anchor="middle" font-weight="normal" textLength="65.6" lengthAdjust="spacingAndGlyphs" transform="rotate(-90 166.4 265.2)" >Relative Btz accumulation</text>
<text x="88.2" y="345" font-size="10.5" fill="#000" stroke="#000" stroke-width="0.5" text-anchor="start" font-weight="bold" >D</text>
<line x1="127.25" y1="351.9" x2="127.25" y2="421.6" stroke="#111" stroke-width="1.1"/>
<line x1="126.75" y1="421.1" x2="218.2" y2="421.1" stroke="#111" stroke-width="1.2"/>
<line x1="124.55" y1="421.10" x2="127.25" y2="421.10" stroke="#111" stroke-width="0.9"/>
<text x="121.65" y="423.3" font-size="6.1" fill="#333" stroke="#333" stroke-width="0.18" text-anchor="end" font-weight="normal" >0</text>
<line x1="124.55" y1="398.98" x2="127.25" y2="398.98" stroke="#111" stroke-width="0.9"/>
<text x="121.65" y="401.175" font-size="6.1" fill="#333" stroke="#333" stroke-width="0.18" text-anchor="end" font-weight="normal" >50</text>
<line x1="124.55" y1="376.85" x2="127.25" y2="376.85" stroke="#111" stroke-width="0.9"/>
<text x="121.65" y="379.05" font-size="6.1" fill="#333" stroke="#333" stroke-width="0.18" text-anchor="end" font-weight="normal" >100</text>
<line x1="124.55" y1="354.73" x2="127.25" y2="354.73" stroke="#111" stroke-width="0.9"/>
<text x="121.65" y="356.925" font-size="6.1" fill="#333" stroke="#333" stroke-width="0.18" text-anchor="end" font-weight="normal" >150</text>
<line x1="127.25" y1="421.1" x2="127.25" y2="423.5" stroke="#111" stroke-width="0.9"/>
<text x="127.25" y="432.8" font-size="6.1" fill="#333" stroke="#333" stroke-width="0.18" text-anchor="middle" font-weight="normal" >0</text>
<line x1="144.88" y1="421.1" x2="144.88" y2="423.5" stroke="#111" stroke-width="0.9"/>
<text x="144.88" y="432.8" font-size="6.1" fill="#333" stroke="#333" stroke-width="0.18" text-anchor="middle" font-weight="normal" >5</text>
<line x1="162.51" y1="421.1" x2="162.51" y2="423.5" stroke="#111" stroke-width="0.9"/>
<text x="162.51" y="432.8" font-size="6.1" fill="#333" stroke="#333" stroke-width="0.18" text-anchor="middle" font-weight="normal" >10</text>
<line x1="180.14" y1="421.1" x2="180.14" y2="423.5" stroke="#111" stroke-width="0.9"/>
<text x="180.14" y="432.8" font-size="6.1" fill="#333" stroke="#333" stroke-width="0.18" text-anchor="middle" font-weight="normal" >15</text>
<line x1="197.77" y1="421.1" x2="197.77" y2="423.5" stroke="#111" stroke-width="0.9"/>
<text x="197.76999999999998" y="432.8" font-size="6.1" fill="#333" stroke="#333" stroke-width="0.18" text-anchor="middle" font-weight="normal" >20</text>
<line x1="215.40" y1="421.1" x2="215.40" y2="423.5" stroke="#111" stroke-width="0.9"/>
<text x="215.39999999999998" y="432.8" font-size="6.1" fill="#333" stroke="#333" stroke-width="0.18" text-anchor="middle" font-weight="normal" >25</text>
<text x="173" y="444.4" font-size="8.2" fill="#333" stroke="#333" stroke-width="0.18" text-anchor="middle" font-weight="bold" textLength="21.5" lengthAdjust="spacingAndGlyphs" >Time (h)</text>
<text x="105.4" y="386.2" font-size="7.3" fill="#2a2a2a" stroke="#2a2a2a" stroke-width="0.18" text-anchor="middle" font-weight="normal" textLength="65.2" lengthAdjust="spacingAndGlyphs" transform="rotate(-90 105.4 386.2)" >Btz release efficiency (%)</text>
<path d="M127.25,421.10 L130.78,414.46 L134.30,404.73 L141.35,404.06 L148.41,399.42 L155.46,397.21 L162.51,389.24 L169.56,386.14 L176.61,380.83 L183.67,376.85 L190.72,376.85" stroke="#e0283c" stroke-width="1.0" fill="none" stroke-linejoin="round" />
<circle cx="127.25" cy="421.10" r="1.45" fill="#b8102a"/>
<circle cx="130.78" cy="414.46" r="1.45" fill="#b8102a"/>
<circle cx="134.30" cy="404.73" r="1.45" fill="#b8102a"/>
<circle cx="141.35" cy="404.06" r="1.45" fill="#b8102a"/>
<circle cx="148.41" cy="399.42" r="1.45" fill="#b8102a"/>
<circle cx="155.46" cy="397.21" r="1.45" fill="#b8102a"/>
<circle cx="162.51" cy="389.24" r="1.45" fill="#b8102a"/>
<circle cx="169.56" cy="386.14" r="1.45" fill="#b8102a"/>
<circle cx="176.61" cy="380.83" r="1.45" fill="#b8102a"/>
<circle cx="183.67" cy="376.85" r="1.45" fill="#b8102a"/>
<circle cx="190.72" cy="376.85" r="1.45" fill="#b8102a"/>
<path d="M127.25,421.10 L130.78,414.46 L134.30,406.50 L141.35,403.40 L148.41,398.53 L155.46,395.44 L162.51,386.14 L169.56,385.04 L176.61,384.37 L183.67,381.50 L190.72,376.85 L197.77,376.85 L204.82,376.85" stroke="#2a4a7e" stroke-width="1.0" fill="none" stroke-linejoin="round" />
<circle cx="127.25" cy="421.10" r="1.45" fill="#13294f"/>
<circle cx="130.78" cy="414.46" r="1.45" fill="#13294f"/>
<circle cx="134.30" cy="406.50" r="1.45" fill="#13294f"/>
<circle cx="141.35" cy="403.40" r="1.45" fill="#13294f"/>
<circle cx="148.41" cy="398.53" r="1.45" fill="#13294f"/>
<circle cx="155.46" cy="395.44" r="1.45" fill="#13294f"/>
<circle cx="162.51" cy="386.14" r="1.45" fill="#13294f"/>
<circle cx="169.56" cy="385.04" r="1.45" fill="#13294f"/>
<circle cx="176.61" cy="384.37" r="1.45" fill="#13294f"/>
<circle cx="183.67" cy="381.50" r="1.45" fill="#13294f"/>
<circle cx="190.72" cy="376.85" r="1.45" fill="#13294f"/>
<circle cx="197.77" cy="376.85" r="1.45" fill="#13294f"/>
<circle cx="204.82" cy="376.85" r="1.45" fill="#13294f"/>
<line x1="133.1" y1="356.3" x2="140.3" y2="356.3" stroke="#2a4a7e" stroke-width="1"/><circle cx="136.7" cy="356.3" r="1.2" fill="#16375a"/>
<line x1="133.1" y1="366" x2="140.3" y2="366" stroke="#e0283c" stroke-width="1"/><circle cx="136.7" cy="366" r="1.2" fill="#c8102a"/>
<text x="143.1" y="358.6" font-size="6.6" fill="#333" stroke="#333" stroke-width="0.18" text-anchor="start" font-weight="normal" textLength="28" lengthAdjust="spacingAndGlyphs" >PH = 7.45</text>
<text x="143.1" y="368.3" font-size="6.6" fill="#333" stroke="#333" stroke-width="0.18" text-anchor="start" font-weight="normal" textLength="28" lengthAdjust="spacingAndGlyphs" >PH = 7.35</text>
<rect x="0.5" y="0.5" width="519" height="451" fill="none" stroke="#555" stroke-width="1.2"/>
</svg></body></html>
